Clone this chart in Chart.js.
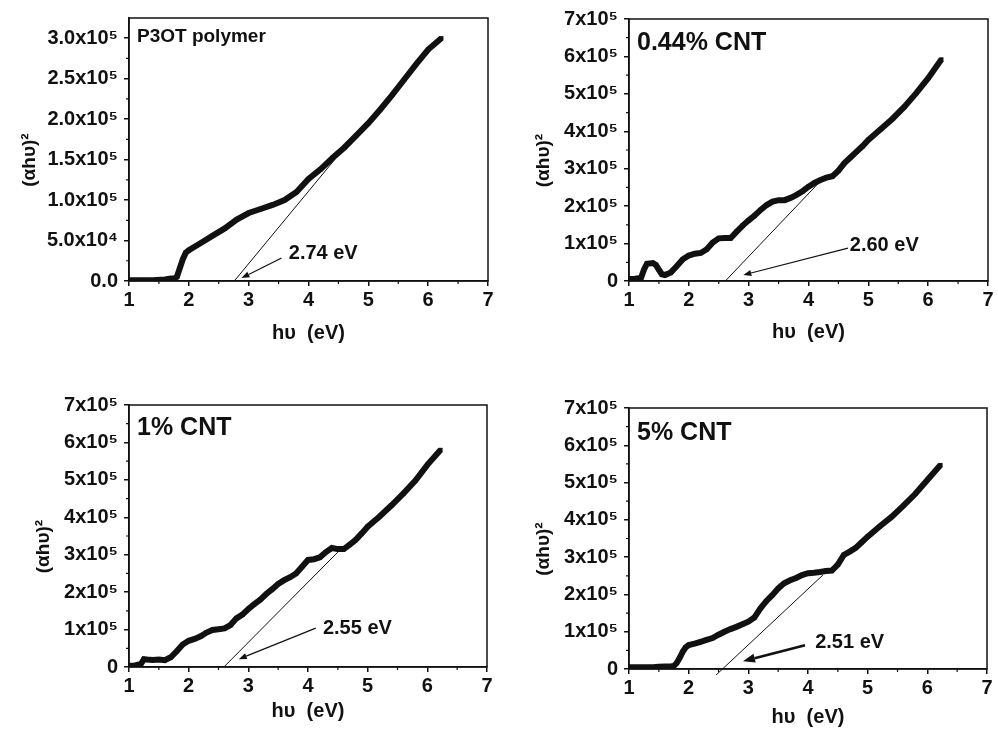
<!DOCTYPE html>
<html><head><meta charset="utf-8">
<script src="https://cdn.jsdelivr.net/npm/chart.js@4.4.1/dist/chart.umd.min.js"></script>
<style>
html,body{margin:0;padding:0;background:#fff;width:998px;height:729px;overflow:hidden}
canvas{position:absolute;display:block}
</style></head><body>
<canvas id="c1" width="499" height="364" style="left:0;top:0"></canvas>
<canvas id="c2" width="499" height="364" style="left:499px;top:0"></canvas>
<canvas id="c3" width="499" height="365" style="left:0;top:364px"></canvas>
<canvas id="c4" width="499" height="365" style="left:499px;top:364px"></canvas>
<script>
// ---------- data ----------
const xTickValues = [1, 2, 3, 4, 5, 6, 7];
const p1YTickLabels = ['0.0', '5.0x10⁴', '1.0x10⁵', '1.5x10⁵', '2.0x10⁵', '2.5x10⁵', '3.0x10⁵'];
const cntYTickLabels = ['0', '1x10⁵', '2x10⁵', '3x10⁵', '4x10⁵', '5x10⁵', '6x10⁵', '7x10⁵'];
const panelLabels = ['P3OT polymer', '0.44% CNT', '1% CNT', '5% CNT'];
const gapLabels = ['2.74 eV', '2.60 eV', '2.55 eV', '2.51 eV'];

const p1X = [1.0,1.2,1.4,1.6,1.7,1.75,1.8,1.85,1.9,1.95,2.0,2.2,2.4,2.6,2.8,3.0,3.2,3.4,3.6,3.8,4.0,4.2,4.4,4.6,4.8,5.0,5.2,5.4,5.6,5.8,6.0,6.22];
const p1Y = [1e3,1e3,1e3,2e3,3e3,3e3,5e3,1.6e4,2.7e4,3.5e4,3.8e4,4.7e4,5.6e4,6.5e4,7.6e4,8.4e4,8.9e4,9.4e4,1.0e5,1.1e5,1.26e5,1.38e5,1.52e5,1.65e5,1.8e5,1.95e5,2.12e5,2.3e5,2.49e5,2.68e5,2.86e5,3.0e5];

const p2X = [1.0,1.1,1.2,1.25,1.3,1.4,1.45,1.5,1.55,1.6,1.7,1.8,1.9,2.0,2.1,2.2,2.3,2.4,2.5,2.6,2.7,2.8,2.9,3.0,3.1,3.2,3.3,3.4,3.5,3.6,3.7,3.8,3.9,4.0,4.1,4.2,4.3,4.4,4.5,4.6,4.7,4.8,4.9,5.0,5.2,5.4,5.6,5.8,6.0,6.22];
const p2Y = [5e3,6e3,8e3,3e4,4.6e4,4.8e4,4.3e4,3e4,1.8e4,1.6e4,2.3e4,4e4,5.8e4,6.8e4,7.3e4,7.5e4,8.5e4,1.03e5,1.14e5,1.15e5,1.15e5,1.32e5,1.48e5,1.62e5,1.75e5,1.9e5,2.03e5,2.12e5,2.16e5,2.16e5,2.22e5,2.3e5,2.4e5,2.52e5,2.62e5,2.7e5,2.76e5,2.8e5,2.95e5,3.15e5,3.3e5,3.45e5,3.6e5,3.77e5,4.05e5,4.33e5,4.65e5,5.02e5,5.42e5,5.92e5];

const p3X = [1.0,1.1,1.2,1.25,1.3,1.4,1.5,1.6,1.7,1.8,1.9,2.0,2.1,2.2,2.3,2.4,2.5,2.6,2.7,2.8,2.9,3.0,3.1,3.2,3.3,3.4,3.5,3.6,3.7,3.8,3.9,4.0,4.1,4.2,4.3,4.4,4.5,4.6,4.7,4.8,4.9,5.0,5.2,5.4,5.6,5.8,6.0,6.22];
const p3Y = [3e3,4e3,8e3,2.1e4,2.0e4,1.9e4,2.0e4,1.8e4,2.6e4,4.2e4,6e4,7e4,7.5e4,8.2e4,9.2e4,9.9e4,1.01e5,1.03e5,1.12e5,1.3e5,1.4e5,1.55e5,1.68e5,1.8e5,1.95e5,2.08e5,2.22e5,2.32e5,2.4e5,2.5e5,2.68e5,2.86e5,2.88e5,2.93e5,3.07e5,3.18e5,3.15e5,3.15e5,3.27e5,3.4e5,3.57e5,3.75e5,4.02e5,4.32e5,4.64e5,4.98e5,5.4e5,5.8e5];

const p4X = [1.0,1.2,1.4,1.5,1.6,1.7,1.75,1.8,1.85,1.9,1.95,2.0,2.1,2.2,2.3,2.4,2.5,2.6,2.7,2.8,2.9,3.0,3.1,3.2,3.3,3.4,3.5,3.6,3.7,3.8,3.9,4.0,4.1,4.2,4.3,4.4,4.5,4.6,4.7,4.8,4.9,5.0,5.2,5.4,5.6,5.8,6.0,6.22];
const p4Y = [5e3,5e3,5e3,6e3,7e3,7e3,8e3,1.6e4,3e4,4.6e4,5.8e4,6.4e4,6.8e4,7.3e4,7.8e4,8.3e4,9.2e4,1.0e5,1.07e5,1.13e5,1.2e5,1.27e5,1.38e5,1.62e5,1.82e5,1.98e5,2.16e5,2.3e5,2.38e5,2.44e5,2.52e5,2.57e5,2.58e5,2.6e5,2.63e5,2.64e5,2.8e5,3.06e5,3.15e5,3.25e5,3.4e5,3.55e5,3.82e5,4.08e5,4.38e5,4.7e5,5.07e5,5.47e5];

// tangent (band-gap extrapolation) lines
const p1TanX = [2.76, 4.5],  p1TanY = [0, 1.556e5];
const p2TanX = [2.61, 4.23], p2TanY = [0, 2.72e5];
const p3TanX = [2.59, 4.5],  p3TanY = [0, 3.07e5];
const p4TanX = [2.46, 4.25], p4TanY = [-1.6e4, 2.52e5];

// ---------- rendering ----------
const FONT = '"Liberation Sans", Arial, Helvetica, sans-serif';
const INK = '#111';
Chart.defaults.font.family = FONT;
Chart.defaults.color = INK;

const panels = [
  {id:'c1', w:499, h:364, area:{left:129, top:18, right:488, bottom:281},
   xs:p1X, ys:p1Y, tx:p1TanX, ty:p1TanY, yMax:3.25e5, yStep:5e4, yMinor:2.5e4, yLabels:p1YTickLabels,
   label:panelLabels[0], labelFont:'bold 19px ' + FONT, labelOff:[8, 19],
   gap:gapLabels[0], gapAt:[3.67, 3.46e4], arrow:[3.55, 2.84e4, 2.88, 3.7e3], arrowW:1.2, head:8,
   yTitlePad:18, xTitlePad:19},
  {id:'c2', w:499, h:364, area:{left:130, top:19, right:489, bottom:281},
   xs:p2X, ys:p2Y, tx:p2TanX, ty:p2TanY, yMax:7e5, yStep:1e5, yMinor:5e4, yLabels:cntYTickLabels,
   label:panelLabels[1], labelFont:'bold 25px ' + FONT, labelOff:[8, 24],
   gap:gapLabels[1], gapAt:[4.69, 9.6e4], arrow:[4.66, 8.8e4, 2.91, 1.6e4], arrowW:1.2, head:8,
   yTitlePad:33, xTitlePad:20},
  {id:'c3', w:499, h:365, area:{left:129, top:41, right:487, bottom:303},
   xs:p3X, ys:p3Y, tx:p3TanX, ty:p3TanY, yMax:7e5, yStep:1e5, yMinor:5e4, yLabels:cntYTickLabels,
   label:panelLabels[2], labelFont:'bold 25px ' + FONT, labelOff:[8, 23],
   gap:gapLabels[2], gapAt:[4.25, 1.04e5], arrow:[4.13, 1.04e5, 2.84, 2.1e4], arrowW:1.2, head:8,
   yTitlePad:32, xTitlePad:6},
  {id:'c4', w:499, h:365, area:{left:130, top:44, right:488, bottom:305},
   xs:p4X, ys:p4Y, tx:p4TanX, ty:p4TanY, yMax:7e5, yStep:1e5, yMinor:5e4, yLabels:cntYTickLabels,
   label:panelLabels[3], labelFont:'bold 25px ' + FONT, labelOff:[8, 25],
   gap:gapLabels[3], gapAt:[4.12, 7.0e4], arrow:[3.95, 6.4e4, 2.91, 2.1e4], arrowW:2.6, head:12,
   yTitlePad:33, xTitlePad:0}
];

function drawArrow(ctx, x0, y0, x1, y1, lw, head) {
  const a = Math.atan2(y1 - y0, x1 - x0);
  const bx = x1 - head * Math.cos(a), by = y1 - head * Math.sin(a);
  const hw = head * 0.38;
  ctx.save();
  ctx.strokeStyle = INK; ctx.fillStyle = INK; ctx.lineWidth = lw;
  ctx.beginPath(); ctx.moveTo(x0, y0); ctx.lineTo(bx, by); ctx.stroke();
  ctx.beginPath();
  ctx.moveTo(x1, y1);
  ctx.lineTo(bx + hw * Math.sin(a), by - hw * Math.cos(a));
  ctx.lineTo(bx - hw * Math.sin(a), by + hw * Math.cos(a));
  ctx.closePath(); ctx.fill();
  ctx.restore();
}

function makePanel(p) {
  const decor = {
    id: 'decor',
    afterDraw(chart) {
      const ctx = chart.ctx, ca = chart.chartArea;
      const xs = chart.scales.x, ys = chart.scales.y;
      ctx.save();
      ctx.strokeStyle = INK; ctx.lineWidth = 1.5;
      ctx.strokeRect(ca.left, ca.top, ca.right - ca.left, ca.bottom - ca.top);
      // minor ticks
      ctx.lineWidth = 1.2;
      ctx.beginPath();
      for (let v = 1.5; v < 7; v += 1) {
        const px = xs.getPixelForValue(v);
        ctx.moveTo(px, ca.bottom); ctx.lineTo(px, ca.bottom + 3);
      }
      for (let v = p.yMinor; v < p.yMax; v += p.yStep) {
        const py = ys.getPixelForValue(v);
        ctx.moveTo(ca.left, py); ctx.lineTo(ca.left - 3, py);
      }
      ctx.stroke();
      // panel label
      ctx.fillStyle = INK;
      ctx.font = p.labelFont;
      ctx.textBaseline = 'middle'; ctx.textAlign = 'left';
      ctx.fillText(p.label, ca.left + p.labelOff[0], ca.top + p.labelOff[1]);
      // gap annotation
      ctx.font = 'bold 20px ' + FONT;
      ctx.fillText(p.gap, xs.getPixelForValue(p.gapAt[0]), ys.getPixelForValue(p.gapAt[1]));
      drawArrow(ctx, xs.getPixelForValue(p.arrow[0]), ys.getPixelForValue(p.arrow[1]),
                xs.getPixelForValue(p.arrow[2]), ys.getPixelForValue(p.arrow[3]), p.arrowW, p.head);
      ctx.restore();
    }
  };
  new Chart(document.getElementById(p.id), {
    type: 'line',
    data: {
      datasets: [
        {data: p.xs.map((x, i) => ({x: x, y: p.ys[i]})), borderColor: INK, backgroundColor: INK,
         borderWidth: 6, pointStyle: 'rect', pointRadius: 3, pointBorderWidth: 0, tension: 0, order: 1},
        {data: p.tx.map((x, i) => ({x: x, y: p.ty[i]})), borderColor: INK, borderWidth: 1,
         pointRadius: 0, tension: 0, clip: false, order: 2}
      ]
    },
    options: {
      responsive: false, animation: false, devicePixelRatio: 1,
      layout: {padding: {left: 0, top: p.area.top, right: p.w - p.area.right, bottom: 0}},
      plugins: {legend: {display: false}, tooltip: {enabled: false}},
      scales: {
        x: {
          type: 'linear', min: 1, max: 7,
          afterBuildTicks: s => { s.ticks = xTickValues.map(v => ({value: v})); },
          ticks: {font: {size: 20, weight: 'bold'}, color: INK, padding: 2, maxRotation: 0, autoSkip: false,
                  callback: v => String(v)},
          grid: {drawOnChartArea: false, drawTicks: true, tickLength: 5, color: INK, lineWidth: 1.5},
          border: {display: true, color: INK, width: 1.5},
          title: {display: true, text: 'hυ  (eV)', font: {size: 20, weight: 'bold'}, color: INK,
                  padding: {top: 0, bottom: p.xTitlePad}},
          afterFit: s => { s.height = p.h - p.area.bottom; }
        },
        y: {
          type: 'linear', min: 0, max: p.yMax,
          afterBuildTicks: s => { s.ticks = p.yLabels.map((_, i) => ({value: i * p.yStep})); },
          ticks: {font: {size: 20, weight: 'bold'}, color: INK, padding: 6, autoSkip: false,
                  callback: (v) => p.yLabels[Math.round(v / p.yStep)]},
          grid: {drawOnChartArea: false, drawTicks: true, tickLength: 5, color: INK, lineWidth: 1.5},
          border: {display: true, color: INK, width: 1.5},
          title: {display: true, text: '(αhυ)²    ', font: {size: 19, weight: 'bold'}, color: INK,
                  padding: {top: p.yTitlePad, bottom: 0}},
          afterFit: s => { s.width = p.area.left; }
        }
      }
    },
    plugins: [decor]
  });
}
panels.forEach(makePanel);
</script>
</body></html>
